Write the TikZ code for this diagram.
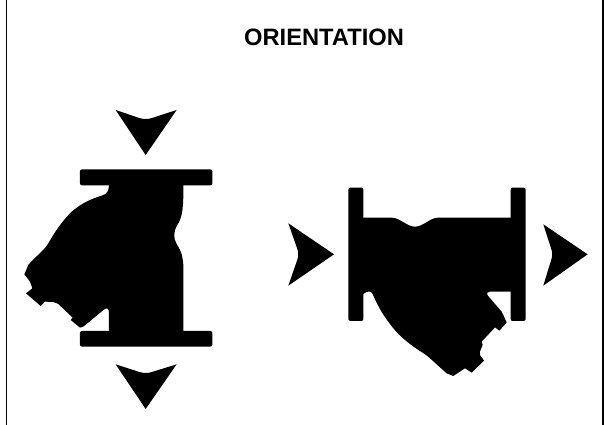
\documentclass[tikz,border=0pt]{standalone}
\usepackage{fontspec}
\setmainfont{Liberation Sans}
\tikzset{
  solid shape/.style={fill=black,draw=none},
  frame line/.style={draw=black,line width=1.4pt},
  left view/.style={shift={(0,90)},x=0.3333pt,y=-0.3333pt},
  right view/.style={shift={(280,170)},x=0.3333pt,y=-0.3333pt}
}
\begin{document}
\begin{tikzpicture}[x=1pt,y=-1pt]
\useasboundingbox (0,0) rectangle (605,425);
\draw[frame line] (6.5,0) -- (6.5,425);
\draw[frame line] (603,0) -- (603,425);
\node[font=\bfseries,inner sep=0pt,anchor=base] (title) at (324,46) {\fontsize{23.7}{26}\selectfont ORIENTATION};
\begin{scope}[left view]
  \fill[solid shape] (347,60) -- (418,84) .. controls (430,88) and (444,88) .. (456,84) -- (530,60) -- (437,195) -- cycle;
  \fill[solid shape] (347,823) -- (418,846) .. controls (430,850) and (444,850) .. (456,846) -- (530,823) -- (437,957) -- cycle;
  \fill[solid shape,rounded corners=2pt] (240,238) rectangle (637,286);
  \fill[solid shape,rounded corners=2pt] (240,723) rectangle (637,770);
  \fill[solid shape] (550,270) -- (550,310)
    .. controls (550,360) and (545,385) .. (532,405)
    .. controls (520,425) and (520,445) .. (530,462)
    .. controls (545,485) and (550,505) .. (550,530)
    -- (550,740) -- (327,740) -- (327,668)
    .. controls (327,655) and (320,653) .. (313,658)
    -- (250,710) -- (240,713) -- (212,690) -- (218,683)
    -- (175,642) -- (160,636) -- (135,635) -- (122,648) -- (78,610) -- (97,595)
    -- (90,575) -- (73,553) -- (85,525)
    .. controls (105,500) and (130,485) .. (145,460)
    .. controls (165,425) and (185,395) .. (215,365)
    .. controls (245,340) and (270,328) .. (305,317)
    .. controls (322,312) and (328,305) .. (327,270) -- cycle;
\end{scope}
\begin{scope}[right view]
  \fill[solid shape] (25,160) -- (162,253) -- (25,347) -- (51,272) .. controls (56,259) and (56,247) .. (51,234) -- cycle;
  \fill[solid shape] (790,163) -- (923,253) -- (790,347) -- (813,272) .. controls (818,259) and (818,247) .. (813,234) -- cycle;
  \fill[solid shape,rounded corners=2pt] (205,53) rectangle (250,453);
  \fill[solid shape,rounded corners=2pt] (692,53) rectangle (737,453);
  \fill[solid shape] (235,143) -- (335,143)
    .. controls (360,143) and (380,170) .. (405,170)
    .. controls (430,170) and (450,143) .. (475,143)
    -- (710,143) -- (710,365) -- (630,365) -- (622,368) -- (622,375)
    -- (665,425) -- (670,435) -- (680,458) -- (658,482) -- (645,472) -- (605,515)
    -- (608,525) -- (600,545) -- (600,555) -- (612,572) -- (575,608) -- (555,595)
    -- (520,618) -- (500,610) -- (450,565)
    .. controls (435,550) and (420,545) .. (405,533)
    .. controls (375,512) and (350,490) .. (330,462)
    .. controls (305,430) and (290,400) .. (278,372)
    .. controls (274,362) and (262,362) .. (250,372)
    -- (235,372) -- cycle;
\end{scope}
\end{tikzpicture}
\end{document}
